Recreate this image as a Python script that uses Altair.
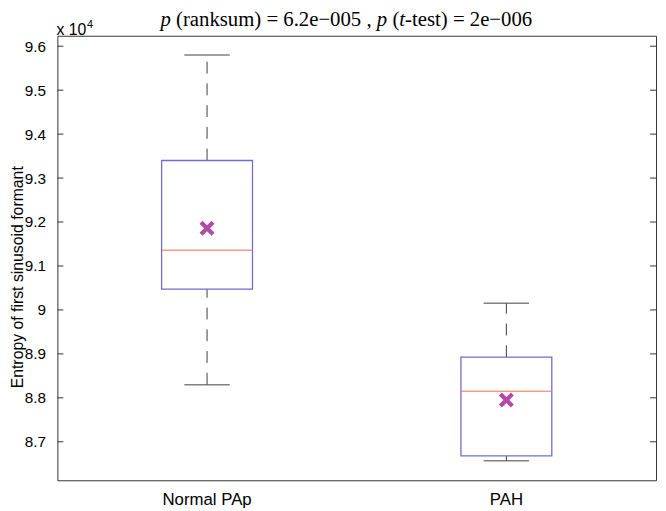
import altair as alt
import pandas as pd

# ---- data (values in units of 10^4) ----
groups = ["Normal PAp", "PAH"]
whisker_low = [8.830, 8.6566]
q1 = [9.0474, 8.668]
medians = [9.1357, 8.815]
q3 = [9.340, 8.8925]
whisker_high = [9.580, 9.015]
means = [9.1858, 8.795]
y_ticks = [8.7, 8.8, 8.9, 9.0, 9.1, 9.2, 9.3, 9.4, 9.5, 9.6]
y_domain = [8.6124, 9.6238]

title_parts = ["p", "(ranksum) = 6.2e\u2212005 ,", "p", "(", "t", "-test) = 2e\u2212006"]
title_italic = [True, False, True, False, True, False]
y_title = "Entropy of first sinusoid formant"

# ---- layout constants ----
W, H = 606, 450
TITLE_FS = 21
# Times-like advance widths (per em) used to place the mixed-style title pieces
adv = {" ": .25, "(": .333, ")": .333, "=": .564, "p": .5, "r": .333, "a": .444,
       "n": .5, "k": .5, "s": .389, "u": .5, "m": .778, "6": .5, ".": .25, "2": .5,
       "e": .444, "\u2212": .564, "0": .5, "5": .5, ",": .25, "t": .278, "-": .333}

def width(s):
    return sum(adv.get(c, .5) for c in s) * TITLE_FS

full = " ".join(title_parts[:2]) + " " + title_parts[2] + " " + "".join(title_parts[3:])
start = 292.5 - width(full) / 2
offsets = []
pos = start
for i, part in enumerate(title_parts):
    offsets.append(pos)
    pos += width(part)
    if i in (0, 1, 2):
        pos += width(" ")

df = pd.DataFrame({"group": groups, "lo": whisker_low, "q1": q1, "med": medians,
                   "q3": q3, "hi": whisker_high, "mean": means})
tick_df = pd.DataFrame({"v": y_ticks})

xscale = alt.Scale(type="band", domain=groups, paddingInner=0, paddingOuter=0)
xaxis = alt.Axis(title=None, ticks=False, domain=False, labelAngle=0, labelPadding=12,
                 labelFont="Liberation Sans", labelFontSize=17, labelColor="black",
                 labelBaseline="top", grid=False)
yscale = alt.Scale(domain=y_domain, nice=False, zero=False)
yaxis = alt.Axis(title=y_title, values=y_ticks, format="~g", ticks=False, domain=False,
                 grid=False, labelFont="Liberation Sans", labelFontSize=15.5,
                 labelColor="black", labelPadding=12, titleFont="Liberation Sans",
                 titleFontSize=16, titleFontWeight="normal", titleColor="black",
                 titleAngle=270, titleBaseline="alphabetic", titleX=-35.5, titleY=244)

X = alt.X("group:N", scale=xscale, axis=xaxis)

def Y(f):
    return alt.Y(f, scale=yscale, axis=yaxis)

base = alt.Chart(df)

whisk_up = base.mark_rule(color="#3c3c3c", strokeWidth=1, strokeDash=[12, 10]).encode(
    x=X, y=Y("q3:Q"), y2="hi:Q")
whisk_lo = base.mark_rule(color="#3c3c3c", strokeWidth=1, strokeDash=[12, 10]).encode(
    x=X, y=Y("lo:Q"), y2="q1:Q")
cap_hi = base.mark_tick(color="#4a4a4a", size=46, thickness=1.5).encode(x=X, y=Y("hi:Q"))
cap_lo = base.mark_tick(color="#4a4a4a", size=46, thickness=1.5).encode(x=X, y=Y("lo:Q"))
box = base.mark_bar(width=alt.RelativeBandSize(0.3036), fill="white", stroke="#6e6ecc",
                    strokeWidth=1.3).encode(x=X, y=Y("q1:Q"), y2="q3:Q")
med = base.mark_tick(color="#f07252", size=92, thickness=1.6).encode(x=X, y=Y("med:Q"))
xpath = ("M-0.6,-1L0,-0.4L0.6,-1L1,-0.6L0.4,0L1,0.6L0.6,1L0,0.4L-0.6,1L-1,0.6"
         "L-0.4,0L-1,-0.6Z")
mean = base.mark_point(shape=xpath, filled=True, size=230, color="#b04ca6",
                       opacity=1).encode(x=X, y=Y("mean:Q"))

tick_l = alt.Chart(tick_df).mark_rule(color="#333", strokeWidth=1).encode(
    y=Y("v:Q"), x=alt.value(0), x2=alt.value(6))
tick_r = alt.Chart(tick_df).mark_rule(color="#333", strokeWidth=1).encode(
    y=Y("v:Q"), x=alt.value(W - 6), x2=alt.value(W))

texts = []
for part, ital, off in zip(title_parts, title_italic, offsets):
    t = alt.Chart(pd.DataFrame({"t": [part]})).mark_text(
        font="Liberation Serif", fontSize=TITLE_FS, fontStyle="italic" if ital else "normal",
        align="left", baseline="alphabetic", color="black").encode(
        text="t:N", x=alt.value(off), y=alt.value(-10))
    texts.append(t)

exp_base = alt.Chart(pd.DataFrame({"t": ["x 10"]})).mark_text(
    font="Liberation Sans", fontSize=16, align="left", baseline="alphabetic",
    color="black").encode(text="t:N", x=alt.value(-1), y=alt.value(-1))
exp_sup = alt.Chart(pd.DataFrame({"t": ["4"]})).mark_text(
    font="Liberation Sans", fontSize=11, align="left", baseline="alphabetic",
    color="black").encode(text="t:N", x=alt.value(30), y=alt.value(-8))

chart = alt.layer(whisk_up, whisk_lo, cap_hi, cap_lo, box, med, mean, tick_l, tick_r,
                  *texts, exp_base, exp_sup).properties(
    width=W, height=H,
    background="white",
    autosize=alt.AutoSizeParams(type="none"),
    padding={"left": 50, "top": 25, "right": 2, "bottom": 28},
).configure_view(stroke="#333", strokeWidth=1)

chart.save("out.html", embed_options={"renderer": "svg", "actions": False})
